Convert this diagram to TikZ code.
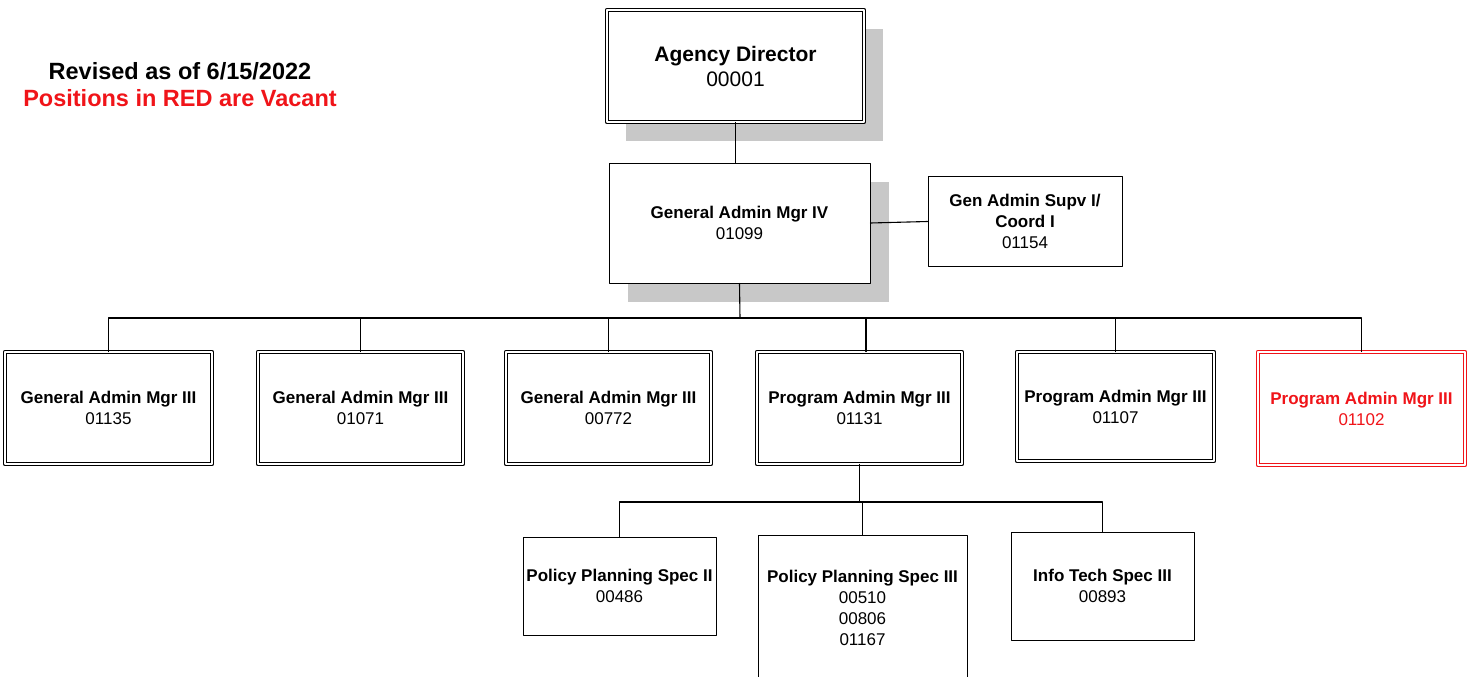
\documentclass[tikz,border=0pt]{standalone}
\usepackage{fontspec}
\setmainfont{Liberation Sans}
\usepackage{tikz}
\usetikzlibrary{calc,positioning,shadows}
\definecolor{shadowgray}{RGB}{200,200,200}
\definecolor{vacantred}{RGB}{240,20,25}
\tikzset{
  post/.style={draw, line width=1pt, fill=white, align=center, inner sep=0pt,
    font=\fontsize{17}{21}\selectfont},
  dpost/.style={post, double, double distance=2.4pt, line width=1pt},
  vacant/.style={dpost, draw=vacantred, text=vacantred},
  boxshadow/.style={general shadow={fill=shadowgray, shadow xshift=19pt, shadow yshift=-19pt}},
  ttl/.style={font=\bfseries\fontsize{23.5}{27}\selectfont},
  every picture/.style={line cap=round, line join=round}
}

\begin{document}
\begin{tikzpicture}[x=1pt,y=-1pt,line width=1.1pt]
  \useasboundingbox (0,0) rectangle (1476,677);

  % note
  \node[ttl] (rev) at (180,71) {Revised as of 6/15/2022};
  \node[ttl,text=vacantred] (vac) at (180,98) {Positions in RED are Vacant};

  % top
  \node[dpost,boxshadow,minimum width=257pt,minimum height=112pt,
    font=\fontsize{21}{25}\selectfont] (ad) at (735.5,66)
    {{\bfseries Agency Director}\\00001};
  \node[post,boxshadow,minimum width=261pt,minimum height=120pt] (gam) at (739.5,223)
    {{\bfseries General Admin Mgr IV}\\01099};
  \node[post,minimum width=194pt,minimum height=90pt] (gas) at (1025,221.5)
    {{\bfseries Gen Admin Supv I/}\\{\bfseries Coord I}\\01154};
  \draw (ad.south) -- (ad.south |- gam.north);
  \draw (gam.east) -- (gas.west);

  % managers
  \node[dpost,minimum width=207pt,minimum height=112pt] (m1) at (108.5,408)
    {{\bfseries General Admin Mgr III}\\01135};
  \node[dpost,minimum width=205pt,minimum height=112pt] (m2) at (360.5,408)
    {{\bfseries General Admin Mgr III}\\01071};
  \node[dpost,minimum width=205pt,minimum height=112pt] (m3) at (608.5,408)
    {{\bfseries General Admin Mgr III}\\00772};
  \node[dpost,minimum width=205pt,minimum height=112pt] (m4) at (859.5,408)
    {{\bfseries Program Admin Mgr III}\\01131};
  \node[dpost,minimum width=197pt,minimum height=109pt] (m5) at (1115.5,406.5)
    {{\bfseries Program Admin Mgr III}\\01107};
  \node[vacant,minimum width=207pt,minimum height=113pt] (m6) at (1361.5,408.5)
    {{\bfseries Program Admin Mgr III}\\01102};

  \coordinate (bus) at (740,318);
  \draw (gam.south) -- (bus);
  \draw (m1.north) |- (bus) -| (m6.north);
  \draw (m2.north) -- (m2.north |- bus);
  \draw (m3.north) -- (m3.north |- bus);
  \draw ([xshift=6.5pt]m4.north) -- ([xshift=6.5pt]m4.north |- bus);
  \draw (m5.north) -- (m5.north |- bus);

  % staff
  \node[post,minimum width=193pt,minimum height=98pt] (p1) at (619.5,586)
    {{\bfseries Policy Planning Spec II}\\00486};
  \node[post,minimum width=209pt,minimum height=146pt] (p2) at (862.5,608)
    {{\bfseries Policy Planning Spec III}\\00510\\00806\\01167};
  \node[post,minimum width=183pt,minimum height=108pt] (p3) at (1102.5,586)
    {{\bfseries Info Tech Spec III}\\00893};

  \coordinate (sub) at (859.5,502);
  \draw (m4.south) -- (sub);
  \draw (p1.north) |- (sub) -| (p3.north);
  \draw (p2.north) -- (p2.north |- sub);
\end{tikzpicture}
\end{document}
